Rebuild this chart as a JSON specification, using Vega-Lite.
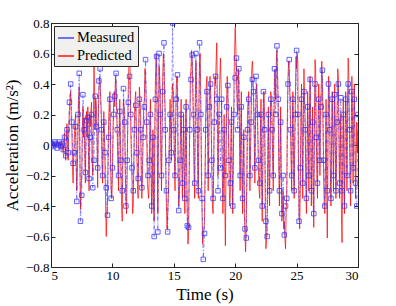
{
"$schema":"https://vega.github.io/schema/vega-lite/v6.json",
"width":307,"height":244,
"autosize":{"type":"none"},
"padding":{"left":51,"top":23,"right":38,"bottom":39},
"background":"white",
"data":{"values":[
{"t":5.0,"m":0.01,"p":0.00},{"t":5.1,"m":0.00,"p":0.01},{"t":5.2,"m":-0.01,"p":-0.02},{"t":5.3,"m":0.02,"p":0.01},{"t":5.4,"m":0.01,"p":0.02},{"t":5.5,"m":-0.02,"p":-0.01},{"t":5.6,"m":0.00,"p":0.01},{"t":5.7,"m":0.02,"p":0.01},{"t":5.8,"m":-0.01,"p":-0.02},{"t":5.9,"m":0.01,"p":0.02},
{"t":6.0,"m":-0.03,"p":-0.05},{"t":6.1,"m":0.05,"p":0.08},{"t":6.2,"m":-0.07,"p":-0.10},{"t":6.3,"m":0.10,"p":0.14},{"t":6.4,"m":-0.05,"p":-0.10},{"t":6.5,"m":0.28,"p":0.22},{"t":6.6,"m":0.40,"p":0.35},{"t":6.7,"m":0.15,"p":0.10},{"t":6.8,"m":-0.12,"p":-0.25},{"t":6.9,"m":-0.05,"p":0.05},
{"t":7.0,"m":0.12,"p":0.20},{"t":7.1,"m":-0.37,"p":-0.30},{"t":7.2,"m":0.20,"p":0.10},{"t":7.3,"m":0.47,"p":0.38},{"t":7.4,"m":-0.50,"p":-0.42},{"t":7.5,"m":-0.33,"p":-0.20},{"t":7.6,"m":0.33,"p":0.25},{"t":7.7,"m":0.10,"p":0.18},{"t":7.8,"m":-0.18,"p":-0.25},{"t":7.9,"m":0.16,"p":0.22},
{"t":8.0,"m":0.18,"p":0.25},{"t":8.1,"m":-0.22,"p":-0.30},{"t":8.2,"m":0.05,"p":0.12},{"t":8.3,"m":0.20,"p":0.28},{"t":8.4,"m":-0.28,"p":-0.20},{"t":8.5,"m":-0.10,"p":0.52},{"t":8.6,"m":0.32,"p":0.10},{"t":8.7,"m":0.12,"p":0.25},{"t":8.8,"m":-0.15,"p":-0.28},{"t":8.9,"m":0.42,"p":0.35},
{"t":9.0,"m":0.50,"p":0.40},{"t":9.1,"m":0.10,"p":0.20},{"t":9.2,"m":-0.20,"p":-0.25},{"t":9.3,"m":0.15,"p":0.22},{"t":9.4,"m":-0.05,"p":-0.15},{"t":9.5,"m":-0.28,"p":-0.60},{"t":9.6,"m":-0.46,"p":-0.35},{"t":9.7,"m":0.05,"p":0.18},{"t":9.8,"m":0.30,"p":0.35},{"t":9.9,"m":-0.35,"p":-0.30},
{"t":10.0,"m":-0.15,"p":-0.22},{"t":10.1,"m":0.20,"p":0.28},{"t":10.2,"m":0.32,"p":0.25},{"t":10.3,"m":0.47,"p":0.40},{"t":10.4,"m":0.10,"p":0.05},{"t":10.5,"m":-0.20,"p":-0.30},{"t":10.6,"m":0.22,"p":0.30},{"t":10.7,"m":-0.10,"p":-0.20},{"t":10.8,"m":-0.30,"p":-0.50},{"t":10.9,"m":0.37,"p":0.30},
{"t":11.0,"m":0.15,"p":0.20},{"t":11.1,"m":-0.40,"p":-0.35},{"t":11.2,"m":-0.10,"p":-0.20},{"t":11.3,"m":0.28,"p":0.40},{"t":11.4,"m":0.45,"p":0.70},{"t":11.5,"m":0.20,"p":0.10},{"t":11.6,"m":-0.15,"p":-0.25},{"t":11.7,"m":-0.30,"p":-0.40},{"t":11.8,"m":0.10,"p":0.20},{"t":11.9,"m":0.26,"p":0.35},
{"t":12.0,"m":-0.05,"p":-0.10},{"t":12.1,"m":-0.22,"p":-0.35},{"t":12.2,"m":0.30,"p":0.38},{"t":12.3,"m":0.10,"p":0.20},{"t":12.4,"m":-0.28,"p":-0.35},{"t":12.5,"m":0.05,"p":0.10},{"t":12.6,"m":0.25,"p":0.30},{"t":12.7,"m":0.56,"p":0.45},{"t":12.8,"m":0.15,"p":0.05},{"t":12.9,"m":-0.20,"p":-0.30},
{"t":13.0,"m":-0.10,"p":-0.20},{"t":13.1,"m":0.20,"p":0.30},{"t":13.2,"m":-0.40,"p":-0.45},{"t":13.3,"m":0.05,"p":0.10},{"t":13.4,"m":-0.60,"p":-0.50},{"t":13.5,"m":0.30,"p":0.40},{"t":13.6,"m":0.58,"p":0.55},{"t":13.7,"m":-0.57,"p":-0.45},{"t":13.8,"m":0.60,"p":0.52},{"t":13.9,"m":0.20,"p":0.30},
{"t":14.0,"m":-0.20,"p":-0.30},{"t":14.1,"m":0.35,"p":0.45},{"t":14.2,"m":0.67,"p":0.55},{"t":14.3,"m":0.10,"p":0.20},{"t":14.4,"m":-0.30,"p":-0.40},{"t":14.5,"m":-0.57,"p":-0.45},{"t":14.6,"m":-0.10,"p":-0.20},{"t":14.7,"m":0.20,"p":0.30},{"t":14.8,"m":-0.05,"p":-0.10},{"t":14.9,"m":0.80,"p":0.40},
{"t":15.0,"m":0.10,"p":0.20},{"t":15.1,"m":-0.20,"p":-0.30},{"t":15.2,"m":0.30,"p":0.38},{"t":15.3,"m":0.46,"p":0.35},{"t":15.4,"m":-0.43,"p":-0.40},{"t":15.5,"m":-0.10,"p":-0.20},{"t":15.6,"m":0.20,"p":0.30},{"t":15.7,"m":-0.25,"p":-0.35},{"t":15.8,"m":0.10,"p":0.20},{"t":15.9,"m":-0.35,"p":-0.45},
{"t":16.0,"m":0.25,"p":0.30},{"t":16.1,"m":-0.53,"p":-0.45},{"t":16.2,"m":-0.54,"p":-0.60},{"t":16.3,"m":0.10,"p":0.15},{"t":16.4,"m":0.43,"p":0.50},{"t":16.5,"m":0.59,"p":0.55},{"t":16.6,"m":0.20,"p":0.10},{"t":16.7,"m":-0.25,"p":-0.35},{"t":16.8,"m":0.60,"p":0.55},{"t":16.9,"m":0.10,"p":0.20},
{"t":17.0,"m":-0.30,"p":-0.35},{"t":17.1,"m":0.67,"p":0.55},{"t":17.2,"m":0.20,"p":0.30},{"t":17.3,"m":-0.35,"p":-0.45},{"t":17.4,"m":-0.75,"p":-0.60},{"t":17.5,"m":-0.58,"p":-0.50},{"t":17.6,"m":0.10,"p":0.20},{"t":17.7,"m":0.35,"p":0.45},{"t":17.8,"m":-0.20,"p":-0.30},{"t":17.9,"m":0.25,"p":0.35},
{"t":18.0,"m":0.40,"p":0.35},{"t":18.1,"m":-0.10,"p":-0.20},{"t":18.2,"m":-0.35,"p":-0.45},{"t":18.3,"m":0.15,"p":0.25},{"t":18.4,"m":0.45,"p":0.40},{"t":18.5,"m":0.30,"p":0.67},{"t":18.6,"m":-0.30,"p":-0.20},{"t":18.7,"m":0.20,"p":0.30},{"t":18.8,"m":-0.15,"p":0.57},{"t":18.9,"m":0.30,"p":0.20},
{"t":19.0,"m":-0.35,"p":-0.45},{"t":19.1,"m":0.10,"p":0.20},{"t":19.2,"m":-0.20,"p":-0.66},{"t":19.3,"m":0.25,"p":0.30},{"t":19.4,"m":0.39,"p":0.35},{"t":19.5,"m":-0.10,"p":-0.20},{"t":19.6,"m":-0.25,"p":-0.35},{"t":19.7,"m":0.15,"p":0.25},{"t":19.8,"m":-0.40,"p":-0.45},{"t":19.9,"m":0.20,"p":0.40},
{"t":20.0,"m":0.44,"p":0.77},{"t":20.1,"m":0.57,"p":0.45},{"t":20.2,"m":0.10,"p":0.20},{"t":20.3,"m":0.50,"p":0.40},{"t":20.4,"m":-0.20,"p":-0.30},{"t":20.5,"m":0.25,"p":0.35},{"t":20.6,"m":-0.35,"p":-0.45},{"t":20.7,"m":0.05,"p":0.10},{"t":20.8,"m":-0.55,"p":-0.60},{"t":20.9,"m":-0.61,"p":-0.50},
{"t":21.0,"m":0.10,"p":0.20},{"t":21.1,"m":0.30,"p":0.35},{"t":21.2,"m":-0.20,"p":-0.30},{"t":21.3,"m":0.15,"p":0.25},{"t":21.4,"m":0.43,"p":0.55},{"t":21.5,"m":0.35,"p":0.30},{"t":21.6,"m":-0.15,"p":-0.25},{"t":21.7,"m":0.45,"p":0.35},{"t":21.8,"m":0.20,"p":0.30},{"t":21.9,"m":-0.10,"p":-0.20},
{"t":22.0,"m":-0.25,"p":-0.35},{"t":22.1,"m":0.20,"p":0.30},{"t":22.2,"m":-0.40,"p":-0.50},{"t":22.3,"m":0.35,"p":0.30},{"t":22.4,"m":0.10,"p":0.15},{"t":22.5,"m":-0.50,"p":-0.68},{"t":22.6,"m":-0.60,"p":-0.50},{"t":22.7,"m":0.20,"p":0.25},{"t":22.8,"m":-0.30,"p":-0.40},{"t":22.9,"m":0.30,"p":0.35},
{"t":23.0,"m":0.10,"p":0.20},{"t":23.1,"m":-0.20,"p":-0.30},{"t":23.2,"m":0.50,"p":0.42},{"t":23.3,"m":0.20,"p":0.30},{"t":23.4,"m":0.65,"p":0.62},{"t":23.5,"m":0.30,"p":0.25},{"t":23.6,"m":-0.30,"p":-0.40},{"t":23.7,"m":0.15,"p":0.25},{"t":23.8,"m":-0.45,"p":-0.50},{"t":23.9,"m":-0.20,"p":-0.30},
{"t":24.0,"m":-0.59,"p":-0.50},{"t":24.1,"m":-0.40,"p":-0.68},{"t":24.2,"m":-0.35,"p":-0.30},{"t":24.3,"m":0.40,"p":0.45},{"t":24.4,"m":0.56,"p":0.48},{"t":24.5,"m":0.10,"p":0.20},{"t":24.6,"m":-0.20,"p":-0.30},{"t":24.7,"m":0.30,"p":0.35},{"t":24.8,"m":-0.30,"p":-0.35},{"t":24.9,"m":0.20,"p":0.30},
{"t":25.0,"m":0.62,"p":0.50},{"t":25.1,"m":0.20,"p":0.55},{"t":25.2,"m":-0.50,"p":-0.45},{"t":25.3,"m":-0.15,"p":-0.30},{"t":25.4,"m":0.30,"p":0.40},{"t":25.5,"m":-0.25,"p":-0.35},{"t":25.6,"m":0.35,"p":0.50},{"t":25.7,"m":0.10,"p":0.15},{"t":25.8,"m":-0.35,"p":-0.45},{"t":25.9,"m":0.25,"p":0.35},
{"t":26.0,"m":-0.20,"p":-0.30},{"t":26.1,"m":0.43,"p":0.45},{"t":26.2,"m":-0.30,"p":-0.40},{"t":26.3,"m":0.15,"p":0.25},{"t":26.4,"m":-0.45,"p":-0.54},{"t":26.5,"m":0.40,"p":0.56},{"t":26.6,"m":0.05,"p":0.10},{"t":26.7,"m":-0.25,"p":-0.35},{"t":26.8,"m":0.30,"p":0.40},{"t":26.9,"m":-0.10,"p":-0.20},
{"t":27.0,"m":0.25,"p":0.35},{"t":27.1,"m":0.49,"p":0.40},{"t":27.2,"m":-0.10,"p":-0.20},{"t":27.3,"m":-0.40,"p":-0.45},{"t":27.4,"m":0.20,"p":0.30},{"t":27.5,"m":-0.30,"p":-0.61},{"t":27.6,"m":0.40,"p":0.45},{"t":27.7,"m":0.10,"p":0.15},{"t":27.8,"m":-0.35,"p":-0.40},{"t":27.9,"m":0.30,"p":0.35},
{"t":28.0,"m":-0.20,"p":-0.30},{"t":28.1,"m":0.33,"p":0.40},{"t":28.2,"m":-0.30,"p":-0.35},{"t":28.3,"m":0.15,"p":0.25},{"t":28.4,"m":0.40,"p":0.45},{"t":28.5,"m":-0.25,"p":-0.35},{"t":28.6,"m":0.31,"p":0.20},{"t":28.7,"m":-0.30,"p":-0.64},{"t":28.8,"m":0.20,"p":0.30},{"t":28.9,"m":-0.40,"p":-0.45},
{"t":29.0,"m":0.30,"p":0.35},{"t":29.1,"m":-0.20,"p":-0.30},{"t":29.2,"m":0.40,"p":0.57},{"t":29.3,"m":0.10,"p":0.15},{"t":29.4,"m":-0.30,"p":-0.40},{"t":29.5,"m":0.35,"p":0.45},{"t":29.6,"m":-0.15,"p":-0.25},{"t":29.7,"m":0.30,"p":0.40},{"t":29.8,"m":-0.25,"p":-0.35},{"t":29.9,"m":-0.40,"p":0.15},
{"t":30.0,"m":0.20,"p":0.10},
{"t":5.05,"p":0.01},{"t":5.15,"p":-0.01},{"t":5.25,"p":0.02},{"t":5.35,"p":-0.01},{"t":5.45,"p":0.00},{"t":5.55,"p":0.02},{"t":5.65,"p":-0.01},{"t":5.75,"p":0.02},{"t":5.85,"p":0.01},{"t":5.95,"p":-0.03},
{"t":6.05,"p":0.03},{"t":6.15,"p":-0.06},{"t":6.25,"p":0.05},{"t":6.35,"p":0.02},{"t":6.45,"p":0.12},{"t":6.55,"p":0.30},{"t":6.65,"p":0.18},{"t":6.75,"p":-0.15},{"t":6.85,"p":-0.08},{"t":6.95,"p":0.15},
{"t":7.05,"p":-0.10},{"t":7.15,"p":-0.15},{"t":7.25,"p":0.30},{"t":7.35,"p":-0.05},{"t":7.45,"p":-0.30},{"t":7.55,"p":0.10},{"t":7.65,"p":0.05},{"t":7.75,"p":-0.05},{"t":7.85,"p":0.10},{"t":7.95,"p":0.05},
{"t":8.05,"p":-0.05},{"t":8.15,"p":0.20},{"t":8.25,"p":0.22},{"t":8.35,"p":-0.10},{"t":8.45,"p":0.15},{"t":8.55,"p":0.35},{"t":8.65,"p":0.30},{"t":8.75,"p":0.05},{"t":8.85,"p":0.15},{"t":8.95,"p":0.45},
{"t":9.05,"p":0.30},{"t":9.15,"p":-0.10},{"t":9.25,"p":0.05},{"t":9.35,"p":0.10},{"t":9.45,"p":-0.40},{"t":9.55,"p":-0.45},{"t":9.65,"p":-0.05},{"t":9.75,"p":0.30},{"t":9.85,"p":-0.10},{"t":9.95,"p":-0.35},
{"t":10.05,"p":0.10},{"t":10.15,"p":0.35},{"t":10.25,"p":0.45},{"t":10.35,"p":0.22},{"t":10.45,"p":-0.15},{"t":10.55,"p":0.10},{"t":10.65,"p":0.05},{"t":10.75,"p":-0.40},{"t":10.85,"p":-0.10},{"t":10.95,"p":0.25},
{"t":11.05,"p":-0.20},{"t":11.15,"p":-0.45},{"t":11.25,"p":0.15},{"t":11.35,"p":0.55},{"t":11.45,"p":0.45},{"t":11.55,"p":-0.10},{"t":11.65,"p":-0.45},{"t":11.75,"p":-0.10},{"t":11.85,"p":0.30},{"t":11.95,"p":0.10},
{"t":12.05,"p":-0.30},{"t":12.15,"p":0.15},{"t":12.25,"p":0.30},{"t":12.35,"p":-0.20},{"t":12.45,"p":-0.20},{"t":12.55,"p":0.25},{"t":12.65,"p":0.50},{"t":12.75,"p":0.25},{"t":12.85,"p":-0.25},{"t":12.95,"p":-0.35},
{"t":13.05,"p":0.15},{"t":13.15,"p":-0.15},{"t":13.25,"p":-0.30},{"t":13.35,"p":-0.35},{"t":13.45,"p":0.10},{"t":13.55,"p":0.60},{"t":13.65,"p":0.10},{"t":13.75,"p":0.10},{"t":13.85,"p":0.45},{"t":13.95,"p":-0.10},
{"t":14.05,"p":0.20},{"t":14.15,"p":0.60},{"t":14.25,"p":0.35},{"t":14.35,"p":-0.20},{"t":14.45,"p":-0.55},{"t":14.55,"p":-0.35},{"t":14.65,"p":0.15},{"t":14.75,"p":0.10},{"t":14.85,"p":0.25},{"t":14.95,"p":0.35},
{"t":15.05,"p":-0.10},{"t":15.15,"p":0.15},{"t":15.25,"p":0.45},{"t":15.35,"p":-0.15},{"t":15.45,"p":-0.35},{"t":15.55,"p":0.15},{"t":15.65,"p":-0.10},{"t":15.75,"p":-0.10},{"t":15.85,"p":-0.20},{"t":15.95,"p":0.10},
{"t":16.05,"p":-0.20},{"t":16.15,"p":-0.65},{"t":16.25,"p":-0.20},{"t":16.35,"p":0.45},{"t":16.45,"p":0.62},{"t":16.55,"p":0.35},{"t":16.65,"p":-0.20},{"t":16.75,"p":0.30},{"t":16.85,"p":0.40},{"t":16.95,"p":-0.20},
{"t":17.05,"p":0.30},{"t":17.15,"p":0.60},{"t":17.25,"p":-0.20},{"t":17.35,"p":-0.65},{"t":17.45,"p":-0.55},{"t":17.55,"p":-0.15},{"t":17.65,"p":0.40},{"t":17.75,"p":0.15},{"t":17.85,"p":0.05},{"t":17.95,"p":0.45},
{"t":18.05,"p":0.10},{"t":18.15,"p":-0.40},{"t":18.25,"p":-0.15},{"t":18.35,"p":0.45},{"t":18.45,"p":0.55},{"t":18.55,"p":0.30},{"t":18.65,"p":0.10},{"t":18.75,"p":0.45},{"t":18.85,"p":0.40},{"t":18.95,"p":-0.20},
{"t":19.05,"p":-0.20},{"t":19.15,"p":-0.35},{"t":19.25,"p":-0.20},{"t":19.35,"p":0.45},{"t":19.45,"p":0.10},{"t":19.55,"p":-0.40},{"t":19.65,"p":0.05},{"t":19.75,"p":-0.20},{"t":19.85,"p":-0.10},{"t":19.95,"p":0.60},
{"t":20.05,"p":0.65},{"t":20.15,"p":0.30},{"t":20.25,"p":0.50},{"t":20.35,"p":0.05},{"t":20.45,"p":0.10},{"t":20.55,"p":-0.20},{"t":20.65,"p":-0.15},{"t":20.75,"p":-0.45},{"t":20.85,"p":-0.70},{"t":20.95,"p":-0.20},
{"t":21.05,"p":0.30},{"t":21.15,"p":0.05},{"t":21.25,"p":-0.05},{"t":21.35,"p":0.50},{"t":21.45,"p":0.45},{"t":21.55,"p":0.05},{"t":21.65,"p":0.10},{"t":21.75,"p":0.40},{"t":21.85,"p":0.05},{"t":21.95,"p":-0.30},
{"t":22.05,"p":0.05},{"t":22.15,"p":-0.20},{"t":22.25,"p":-0.15},{"t":22.35,"p":0.35},{"t":22.45,"p":-0.40},{"t":22.55,"p":-0.62},{"t":22.65,"p":-0.10},{"t":22.75,"p":-0.25},{"t":22.85,"p":0.05},{"t":22.95,"p":0.30},
{"t":23.05,"p":-0.10},{"t":23.15,"p":0.15},{"t":23.25,"p":0.50},{"t":23.35,"p":0.55},{"t":23.45,"p":0.45},{"t":23.55,"p":-0.15},{"t":23.65,"p":-0.10},{"t":23.75,"p":-0.20},{"t":23.85,"p":-0.45},{"t":23.95,"p":-0.55},
{"t":24.05,"p":-0.62},{"t":24.15,"p":-0.45},{"t":24.25,"p":0.20},{"t":24.35,"p":0.55},{"t":24.45,"p":0.35},{"t":24.55,"p":-0.10},{"t":24.65,"p":0.10},{"t":24.75,"p":-0.10},{"t":24.85,"p":0.05},{"t":24.95,"p":0.58},
{"t":25.05,"p":0.60},{"t":25.15,"p":-0.10},{"t":25.25,"p":-0.55},{"t":25.35,"p":0.15},{"t":25.45,"p":0.05},{"t":25.55,"p":0.20},{"t":25.65,"p":0.30},{"t":25.75,"p":-0.25},{"t":25.85,"p":-0.10},{"t":25.95,"p":0.10},
{"t":26.05,"p":0.20},{"t":26.15,"p":0.10},{"t":26.25,"p":-0.10},{"t":26.35,"p":-0.35},{"t":26.45,"p":0.15},{"t":26.55,"p":0.50},{"t":26.65,"p":-0.20},{"t":26.75,"p":0.15},{"t":26.85,"p":0.20},{"t":26.95,"p":0.25},
{"t":27.05,"p":0.55},{"t":27.15,"p":0.15},{"t":27.25,"p":-0.40},{"t":27.35,"p":-0.15},{"t":27.45,"p":-0.30},{"t":27.55,"p":-0.10},{"t":27.65,"p":0.40},{"t":27.75,"p":-0.20},{"t":27.85,"p":0.05},{"t":27.95,"p":0.10},
{"t":28.05,"p":0.10},{"t":28.15,"p":0.05},{"t":28.25,"p":-0.10},{"t":28.35,"p":0.50},{"t":28.45,"p":0.10},{"t":28.55,"p":-0.10},{"t":28.65,"p":-0.45},{"t":28.75,"p":-0.20},{"t":28.85,"p":-0.10},{"t":28.95,"p":0.10},
{"t":29.05,"p":0.15},{"t":29.15,"p":0.25},{"t":29.25,"p":0.45},{"t":29.35,"p":-0.20},{"t":29.45,"p":0.10},{"t":29.55,"p":0.20},{"t":29.65,"p":0.15},{"t":29.75,"p":0.05},{"t":29.85,"p":-0.10},{"t":29.95,"p":-0.05}
]},
"resolve":{"axis":{"x":"independent","y":"independent"}},
"layer":[
{"mark":{"type":"line","strokeWidth":0.8,"opacity":0.9,"clip":true},
 "encoding":{
  "x":{"field":"t","type":"quantitative","scale":{"domain":[5,30],"nice":false},"axis":{"values":[5,10,15,20,25,30],"title":"Time (s)","orient":"bottom"}},
  "y":{"field":"p","type":"quantitative","scale":{"domain":[-0.8,0.8],"nice":false},"axis":{"values":[-0.8,-0.6,-0.4,-0.2,0,0.2,0.4,0.6,0.8],"format":".1~f","title":"Acceleration (m/s²)","orient":"left"}},
  "color":{"datum":"Predicted","scale":{"domain":["Measured","Predicted"],"range":["#3333ff","#ff0000"]},
   "legend":{"title":null,"orient":"top-left","offset":3,"fillColor":"#f0f0ee","strokeColor":"#262626","padding":3,"labelFont":"Liberation Serif","labelFontSize":14.5,"labelColor":"#000","symbolSize":256,"rowPadding":2,"labelOffset":2,
    "encode":{"symbols":{"update":{"shape":{"signal":"datum.value=='Measured' ? 'M-1,0H-0.3M0.3,0H1M-0.3,-0.3H0.3V0.3H-0.3Z' : 'M-1,0H1'"},"strokeDash":{"signal":"datum.value=='Measured' ? [3,2,1,2] : []"},"stroke":{"signal":"datum.value=='Measured' ? '#3333ff' : '#ff0000'"},"fill":{"value":"transparent"},"strokeWidth":{"value":1},"opacity":{"value":1}}}}}}
 }},
{"transform":[{"filter":"isValid(datum.m)"}],
 "mark":{"type":"line","strokeWidth":0.7,"strokeDash":[4,2,1,2],"opacity":0.8,"clip":true},
 "encoding":{
  "x":{"field":"t","type":"quantitative","axis":null},
  "y":{"field":"m","type":"quantitative","axis":null},
  "color":{"datum":"Measured"}
 }},
{"transform":[{"filter":"isValid(datum.m)"}],
 "mark":{"type":"point","shape":"square","size":20,"filled":false,"color":"#3333ff","strokeWidth":0.9,"opacity":0.85,"clip":true},
 "encoding":{
  "x":{"field":"t","type":"quantitative","axis":{"values":[5,10,15,20,25,30],"labels":false,"title":null,"orient":"top"}},
  "y":{"field":"m","type":"quantitative","axis":{"values":[-0.8,-0.6,-0.4,-0.2,0,0.2,0.4,0.6,0.8],"labels":false,"title":null,"orient":"right"}}
 }}
],
"config":{
 "font":"Liberation Serif",
 "view":{"stroke":null},
 "axis":{"labelFont":"Liberation Serif","labelFontSize":13,"labelColor":"#000","titleFont":"Liberation Serif","titleFontSize":17,"titleFontWeight":"normal","titleColor":"#000","domainColor":"#262626","tickColor":"#262626","grid":false,"tickSize":-4,"labelPadding":6}
}
}
